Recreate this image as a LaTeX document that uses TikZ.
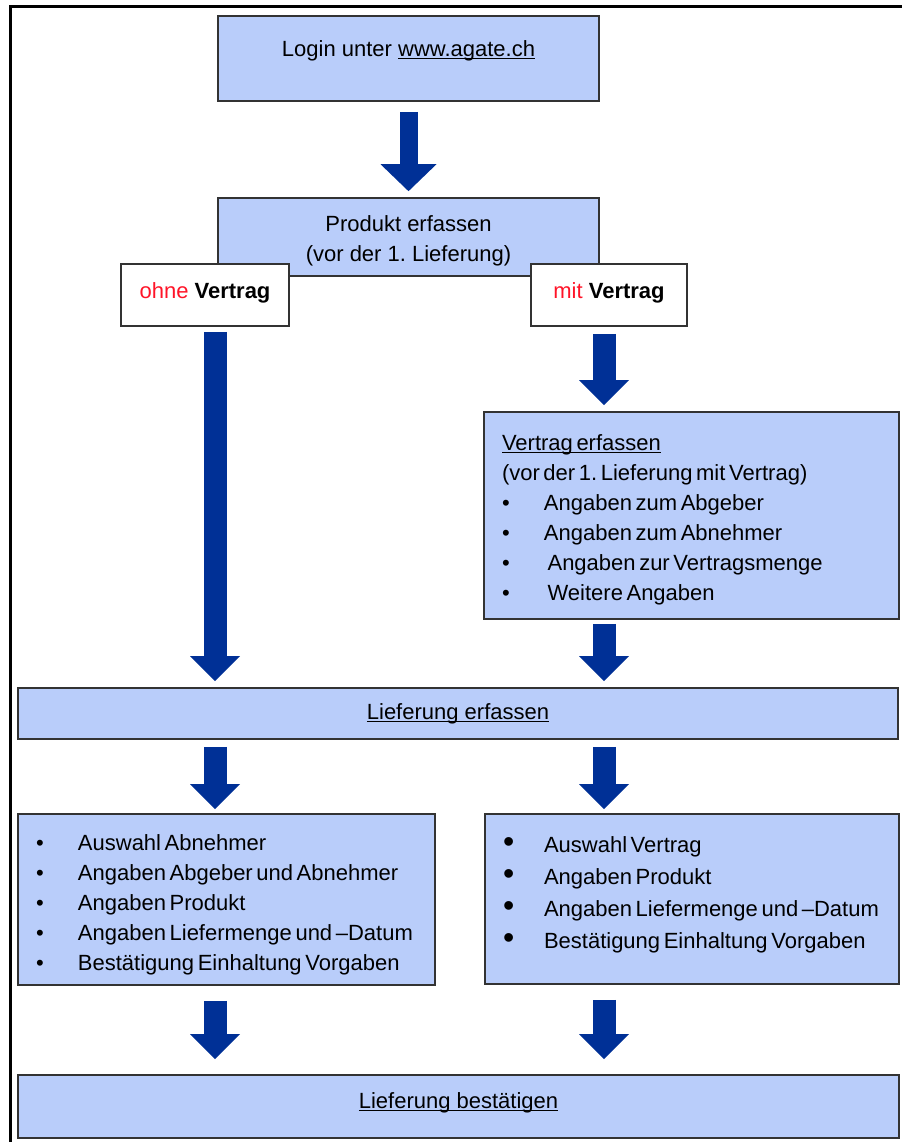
\documentclass[tikz,border=0pt]{standalone}
\usepackage{fontspec}
\setmainfont{Liberation Sans}
\usetikzlibrary{arrows.meta}

\definecolor{kastenblau}{RGB}{185,205,250}
\definecolor{pfeilblau}{RGB}{0,48,150}
\definecolor{rosso}{RGB}{255,20,40}

\newsavebox{\ulbox}
\newcommand{\unterstr}[1]{\sbox{\ulbox}{#1}\rlap{\rule[-1.4pt]{\wd\ulbox}{0.55pt}}\usebox{\ulbox}}
\newcommand{\engspazio}{\spaceskip=1.8pt plus 1pt minus 0.5pt\relax}
\newcommand{\punkt}[1]{\mbox{\engspazio\makebox[21pt][l]{\textbullet}#1}}
\newcommand{\grosspunkt}[1]{\mbox{\engspazio\makebox[20.5pt][l]{\fontsize{16}{16}\selectfont\textbullet}#1}}

\tikzset{
    kasten/.style={draw=black!80, line width=0.8pt, fill=kastenblau, inner sep=0pt,
        font=\fontsize{11}{15}\selectfont},
    weiss/.style={kasten, fill=white},
    liste/.style={kasten, align=left, inner xsep=9pt},
    pfeil/.style={draw=pfeilblau, line width=11.5pt,
        -{Triangle[width=25pt,length=12.5pt,line width=0pt]}}
}

\begin{document}
\begin{tikzpicture}[x=0.5pt, y=-0.5pt]
        \useasboundingbox (0,0) rectangle (902,1142);

        % Cornice
        \draw[line width=1.5pt] (10,1142) -- (10,6) -- (902,6);

        % Colonne delle frecce
        \coordinate (links) at (215,0);
        \coordinate (rechts) at (604,0);

        % Riquadri
        \node[kasten, minimum width=190.5pt, minimum height=42.5pt, text height=8pt, text depth=10.5pt] (login) at (408.5,58.5) {Login unter \unterstr{www.agate.ch}};
        \node[kasten, minimum width=190.5pt, minimum height=39pt, align=center] (produkt) at (408.5,237) {\rule{0pt}{12pt}Produkt erfassen\\(vor der 1.\ Lieferung)};
        \node[weiss, minimum width=84pt, minimum height=31pt, text height=8pt, text depth=5pt] (ohne) at (205,295) {\textcolor{rosso}{ohne} \textbf{Vertrag}};
        \node[weiss, minimum width=78pt, minimum height=31pt, text height=8pt, text depth=5pt] (mit) at (609,295) {\textcolor{rosso}{mit} \textbf{Vertrag}};

        \node[liste, text width=189.5pt, minimum height=103.5pt] (vertrag) at (691.5,515.5) {\engspazio\rule{0pt}{12pt}\unterstr{Vertrag erfassen}\\
            (vor der 1.\ Lieferung mit Vertrag)\\
            \punkt{Angaben zum Abgeber}\\
            \punkt{Angaben zum Abnehmer}\\
            \punkt{\ Angaben zur Vertragsmenge}\\
            \punkt{\ Weitere Angaben}};

        \node[kasten, minimum width=440pt, minimum height=25.5pt] (lieferung) at (458,713.5) {\unterstr{Lieferung erfassen}};

        \node[liste, text width=190.5pt, minimum height=85.5pt] (linksliste) at (226.5,899.5) {\rule{0pt}{13pt}\punkt{Auswahl Abnehmer}\\
            \punkt{Angaben Abgeber und Abnehmer}\\
            \punkt{Angaben Produkt}\\
            \punkt{Angaben Liefermenge und –Datum}\\
            \punkt{Bestätigung Einhaltung Vorgaben}};
        \node[liste, text width=189pt, minimum height=85pt, font=\fontsize{11}{16}\selectfont] (rechtsliste) at (692,899) {\grosspunkt{Auswahl Vertrag}\\
            \grosspunkt{Angaben Produkt}\\
            \grosspunkt{Angaben Liefermenge und –Datum}\\
            \grosspunkt{Bestätigung Einhaltung Vorgaben}\\[-9.5pt]\mbox{}};

        \node[kasten, minimum width=440.5pt, minimum height=31.5pt, text height=8pt, text depth=6.5pt] (bestaetigen) at (458.5,1106.5) {\unterstr{Lieferung bestätigen}};

        % Frecce
        \draw[pfeil, line width=9pt, -{Triangle[width=28pt,length=13.5pt,line width=0pt]}] ([yshift=-5pt]login.south) -- ([yshift=3pt]produkt.north);
        \draw[pfeil] ([yshift=-2.5pt]ohne.south -| links) -- ([yshift=3pt]lieferung.north -| links); % ohne Vertrag
        \draw[pfeil] ([yshift=-3.5pt]mit.south -| rechts) -- ([yshift=3pt]vertrag.north -| rechts); % mit Vertrag
        \draw[pfeil] ([yshift=-2pt]vertrag.south -| rechts) -- ([yshift=3pt]lieferung.north -| rechts);
        \draw[pfeil] ([yshift=-3.5pt]lieferung.south -| links) -- ([yshift=2pt]linksliste.north -| links);
        \draw[pfeil] ([yshift=-3.5pt]lieferung.south -| rechts) -- ([yshift=2pt]rechtsliste.north -| rechts);
        \draw[pfeil] ([yshift=-7.5pt]linksliste.south -| links) -- ([yshift=7.5pt]bestaetigen.north -| links);
        \draw[pfeil] ([yshift=-7.5pt]rechtsliste.south -| rechts) -- ([yshift=7.5pt]bestaetigen.north -| rechts);
    \end{tikzpicture}
\end{document}
